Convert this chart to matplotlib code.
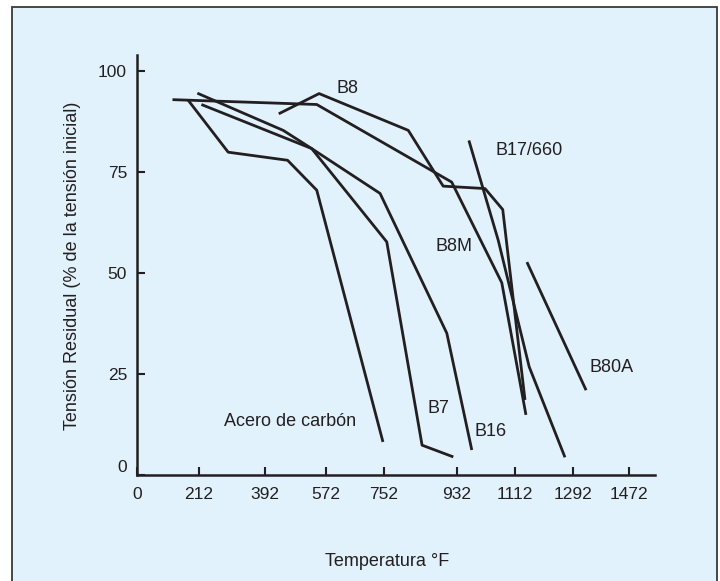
import numpy as np
import matplotlib
matplotlib.use("Agg")
import matplotlib.pyplot as plt
from matplotlib.patches import Rectangle

plt.rcParams['font.family'] = ['Liberation Sans', 'DejaVu Sans']

# --- data (temperature in °F, residual stress in %) ---
acero_x = [174, 292, 459, 545, 749]
acero_y = [93.0, 80.0, 78.0, 70.6, 8.3]

b7_x = [207, 446, 530, 759, 846, 923]
b7_y = [94.6, 85.4, 80.9, 57.8, 7.5, 4.6]

b16_x = [219, 530, 740, 907, 978]
b16_y = [91.8, 80.9, 69.8, 35.2, 6.3]

b8_x = [433, 552, 812, 898, 1019, 1074, 1143]
b8_y = [89.5, 94.5, 85.4, 71.6, 71.0, 65.8, 18.7]

b8m_x = [122, 545, 919, 1071, 1146]
b8m_y = [93.0, 91.8, 72.6, 47.7, 15.0]

b17_x = [969, 1060, 1156, 1267]
b17_y = [82.9, 58.2, 26.9, 4.5]

b80a_x = [1149, 1334]
b80a_y = [52.8, 21.1]

labels = ['Acero de carbón', 'B7', 'B16', 'B8', 'B8M', 'B17/660', 'B80A']
label_x = [281, 860, 985, 606, 880, 1052, 1344]
label_y = [13.3, 16.6, 10.8, 95.8, 56.7, 80.3, 26.7]

x_ticks = [0, 212, 392, 572, 752, 932, 1112, 1292, 1472]
y_ticks = [0, 25, 50, 75, 100]

# the drawn x axis is not linear in °F: tick spacing as printed on the chart
scale_vals = [0, 212, 392, 572, 752, 932, 1112, 1292, 1472, 1652]
scale_pos = [0, 62, 128, 189, 247, 320, 378, 436, 492, 548]


def fwd(x):
    return np.interp(x, scale_vals, scale_pos)


def inv(p):
    return np.interp(p, scale_pos, scale_vals)


ink = '#231F20'
bg = '#E1F2FC'

fig = plt.figure(figsize=(7.2, 5.81), dpi=100)
fig.patch.set_facecolor('white')
fig.patches.append(Rectangle((0.016, -0.02), 0.980, 1.0074, transform=fig.transFigure,
                             facecolor=bg, edgecolor='#3a3a3a', linewidth=1.3, zorder=-5))

ax = fig.add_axes([0.190, 0.1816, 0.720, 0.7234])
ax.set_zorder(1)
ax.set_facecolor('none')
ax.set_xscale('function', functions=(fwd, inv))

series = [(acero_x, acero_y), (b7_x, b7_y), (b16_x, b16_y), (b8_x, b8_y),
          (b8m_x, b8m_y), (b17_x, b17_y), (b80a_x, b80a_y)]
for xs, ys in series:
    ax.plot(xs, ys, color=ink, lw=2.0, solid_capstyle='butt', clip_on=False)

for txt, lx, ly in zip(labels, label_x, label_y):
    ax.text(lx, ly, txt, fontsize=13, color=ink, ha='left', va='center')

ax.set_xlim(0, 1556)
ax.set_ylim(0, 104)
ax.set_xticks(x_ticks)
ax.set_xticklabels([str(t) for t in x_ticks])
ax.set_yticks(y_ticks)
ax.set_yticklabels([str(t) for t in y_ticks])
ax.get_yticklabels()[0].set_verticalalignment('bottom')
ax.minorticks_off()

for s in ['top', 'right']:
    ax.spines[s].set_visible(False)
for s in ['left', 'bottom']:
    ax.spines[s].set_linewidth(1.8)
    ax.spines[s].set_color(ink)

ax.tick_params(direction='in', length=6, width=1.5, color=ink,
               labelsize=12.5, labelcolor=ink)
ax.tick_params(axis='x', pad=8)
ax.tick_params(axis='y', pad=7)

ax.set_xlabel('Temperatura °F', fontsize=13, color=ink)
ax.set_ylabel('Tensión Residual (% de la tensión inicial)', fontsize=13, color=ink)
ax.xaxis.set_label_coords(0.483, -0.184)
ax.yaxis.set_label_coords(-0.108, 0.5)

fig.savefig('out.png', dpi=100, facecolor='white')
